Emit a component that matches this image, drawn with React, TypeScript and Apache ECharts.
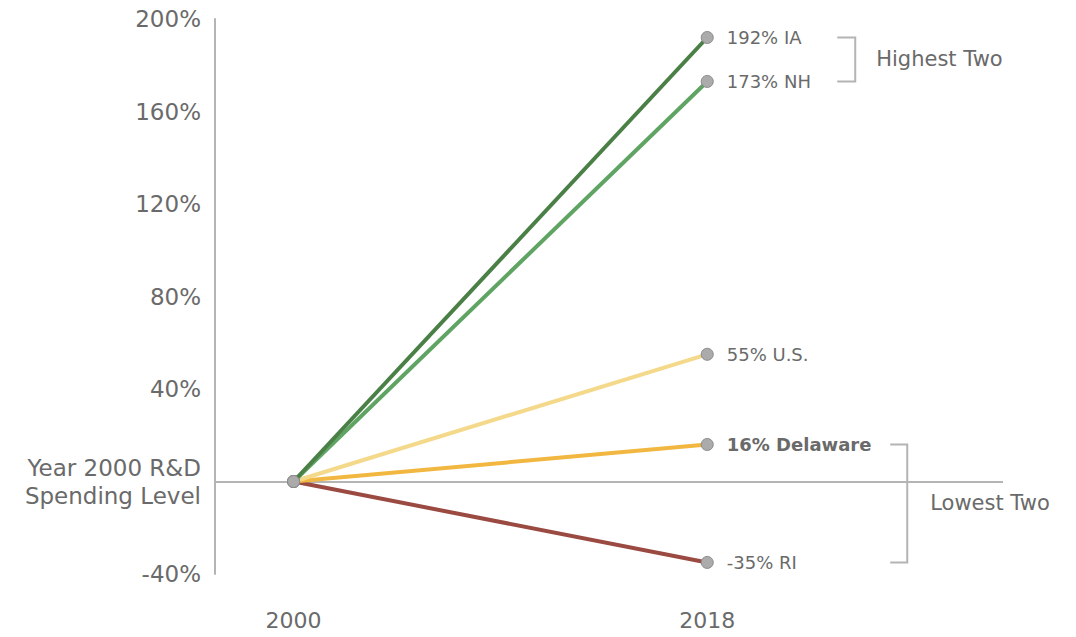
import React, { useEffect, useRef } from 'react';
import * as echarts from 'echarts';

const years = ['2000', '2018'];
const seriesNames = ['RI', 'Delaware', 'U.S.', 'NH', 'IA'];
const startValues = [0, 0, 0, 0, 0];
const endValues = [-35, 16, 55, 173, 192];
const lineColors = ['#9b4a42', '#f2b740', '#f4d98b', '#5fa463', '#4a7f46'];
const boldNames = ['Delaware'];
const yMin = -40;
const yMax = 200;
const yInterval = 40;
const zeroLabel = 'Year 2000 R&D\nSpending Level';
const highestGroup = ['IA', 'NH'];
const lowestGroup = ['Delaware', 'RI'];
const groupLabels = ['Highest Two', 'Lowest Two'];

const FONT = 'DejaVu Sans';
const TEXT = '#6a6a6a';
const GRAYLINE = '#b4b4b4';

export default function App() {
  const ref = useRef<HTMLDivElement>(null);
  useEffect(() => {
    if (!ref.current) return;
    const chart = echarts.init(ref.current, null, { renderer: 'svg' });
    const series: any[] = seriesNames.map((name, i) => ({
      name,
      type: 'line',
      data: [
        [0, startValues[i]],
        [1, endValues[i]],
      ],
      symbol: 'circle',
      symbolSize: 12,
      itemStyle: { color: '#ababab', borderColor: '#8a8a8a', borderWidth: 1 },
      lineStyle: { color: lineColors[i], width: 4 },
      z: 3 + i,
      label: {
        show: true,
        position: 'right',
        distance: 13,
        fontFamily: FONT,
        fontSize: 18,
        color: TEXT,
        fontWeight: boldNames.includes(name) ? 'bold' : 'normal',
        formatter: (p: any) => (p.dataIndex === 1 ? `${endValues[i]}% ${name}` : ''),
      },
      ...(i === 0
        ? {
            markLine: {
              silent: true,
              symbol: 'none',
              label: { show: false },
              lineStyle: { color: GRAYLINE, width: 2, type: 'solid' },
              data: [{ yAxis: 0 }],
              z: 1,
            },
          }
        : {}),
    }));

    chart.setOption({
      animation: false,
      grid: { left: 215, right: 73, top: 19, bottom: 63, containLabel: false },
      xAxis: {
        type: 'value',
        min: -0.19,
        max: 1.715,
        axisLine: { show: false },
        axisTick: { show: false },
        splitLine: { show: false },
        axisLabel: {
          customValues: [0, 1],
          formatter: (v: number) => years[Math.round(v)] ?? '',
          fontFamily: FONT,
          fontSize: 22,
          color: TEXT,
          margin: 35,
        },
      },
      yAxis: {
        type: 'value',
        min: yMin,
        max: yMax,
        interval: yInterval,
        axisLine: { show: true, onZero: false, lineStyle: { color: GRAYLINE, width: 2 } },
        axisTick: { show: false },
        splitLine: { show: false },
        axisLabel: {
          formatter: (v: number) => (v === 0 ? zeroLabel : `${v}%`),
          fontFamily: FONT,
          fontSize: 23,
          lineHeight: 28,
          color: TEXT,
          margin: 14,
        },
      },
      series,
    });

    const px = (x: number, y: number) => chart.convertToPixel({ gridIndex: 0 }, [x, y]) as number[];
    const valOf = (n: string) => endValues[seriesNames.indexOf(n)];
    const [ex, hTop] = px(1, valOf(highestGroup[0]));
    const [, hBot] = px(1, valOf(highestGroup[1]));
    const [, lTop] = px(1, valOf(lowestGroup[0]));
    const [, lBot] = px(1, valOf(lowestGroup[1]));
    const [, zeroY] = px(1, 0);
    const bracket = (x1: number, x2: number, y1: number, y2: number) => ({
      type: 'polyline',
      shape: { points: [[x1, y1], [x2, y1], [x2, y2], [x1, y2]] },
      style: { stroke: GRAYLINE, lineWidth: 2, fill: 'none' },
      silent: true,
    });
    chart.setOption({
      graphic: [
        bracket(ex + 130, ex + 148, hTop, hBot),
        {
          type: 'text',
          x: ex + 169,
          y: (hTop + hBot) / 2,
          style: { text: groupLabels[0], fontFamily: FONT, fontSize: 21, fill: TEXT, verticalAlign: 'middle', align: 'left' },
        },
        bracket(ex + 183, ex + 200, lTop, lBot),
        {
          type: 'text',
          x: ex + 223,
          y: zeroY + 21,
          style: { text: groupLabels[1], fontFamily: FONT, fontSize: 21, fill: TEXT, verticalAlign: 'middle', align: 'left' },
        },
      ],
    });

    return () => chart.dispose();
  }, []);
  return <div ref={ref} style={{ position: 'fixed', left: 0, top: 0, width: 1076, height: 637, background: '#fff' }} />;
}
